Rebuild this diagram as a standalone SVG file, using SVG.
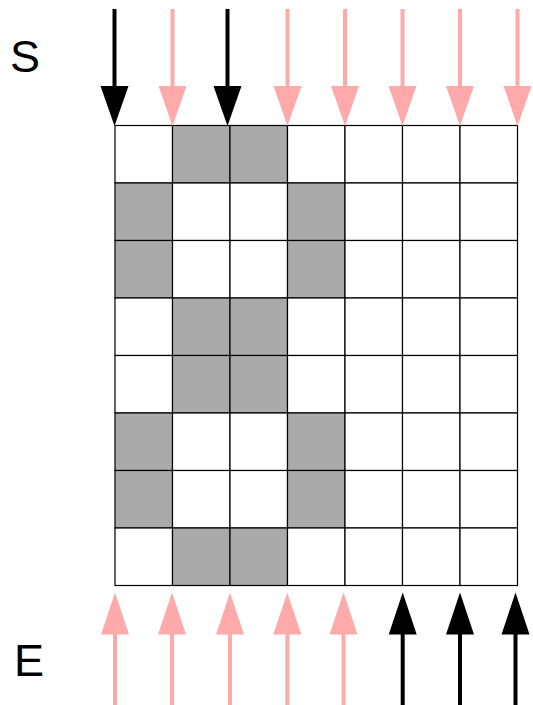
<svg xmlns="http://www.w3.org/2000/svg" width="533" height="705" viewBox="0 0 533 705">
<style>
.cell{stroke:#000;stroke-width:1.2}
.w{fill:#fff}
.g{fill:#aaaaaa}
.lbl{font-family:"Liberation Sans",Arial,sans-serif;font-size:45px;fill:#000}
.pk line{stroke:#ffaaaa;stroke-width:4}
.pk polygon{fill:#ffaaaa}
.bk line{stroke:#000;stroke-width:4}
.bk polygon{fill:#000}
</style>
<rect width="533" height="705" fill="#fff"/>
<g id="grid">
<rect class="cell w" x="115" y="125.5" width="57.5" height="57.5"/>
<rect class="cell g" x="172.5" y="125.5" width="57.5" height="57.5"/>
<rect class="cell g" x="230" y="125.5" width="57.5" height="57.5"/>
<rect class="cell w" x="287.5" y="125.5" width="57.5" height="57.5"/>
<rect class="cell w" x="345" y="125.5" width="57.5" height="57.5"/>
<rect class="cell w" x="402.5" y="125.5" width="57.5" height="57.5"/>
<rect class="cell w" x="460" y="125.5" width="57.5" height="57.5"/>

<rect class="cell g" x="115" y="183" width="57.5" height="57.5"/>
<rect class="cell w" x="172.5" y="183" width="57.5" height="57.5"/>
<rect class="cell w" x="230" y="183" width="57.5" height="57.5"/>
<rect class="cell g" x="287.5" y="183" width="57.5" height="57.5"/>
<rect class="cell w" x="345" y="183" width="57.5" height="57.5"/>
<rect class="cell w" x="402.5" y="183" width="57.5" height="57.5"/>
<rect class="cell w" x="460" y="183" width="57.5" height="57.5"/>

<rect class="cell g" x="115" y="240.5" width="57.5" height="57.5"/>
<rect class="cell w" x="172.5" y="240.5" width="57.5" height="57.5"/>
<rect class="cell w" x="230" y="240.5" width="57.5" height="57.5"/>
<rect class="cell g" x="287.5" y="240.5" width="57.5" height="57.5"/>
<rect class="cell w" x="345" y="240.5" width="57.5" height="57.5"/>
<rect class="cell w" x="402.5" y="240.5" width="57.5" height="57.5"/>
<rect class="cell w" x="460" y="240.5" width="57.5" height="57.5"/>

<rect class="cell w" x="115" y="298" width="57.5" height="57.5"/>
<rect class="cell g" x="172.5" y="298" width="57.5" height="57.5"/>
<rect class="cell g" x="230" y="298" width="57.5" height="57.5"/>
<rect class="cell w" x="287.5" y="298" width="57.5" height="57.5"/>
<rect class="cell w" x="345" y="298" width="57.5" height="57.5"/>
<rect class="cell w" x="402.5" y="298" width="57.5" height="57.5"/>
<rect class="cell w" x="460" y="298" width="57.5" height="57.5"/>

<rect class="cell w" x="115" y="355.5" width="57.5" height="57.5"/>
<rect class="cell g" x="172.5" y="355.5" width="57.5" height="57.5"/>
<rect class="cell g" x="230" y="355.5" width="57.5" height="57.5"/>
<rect class="cell w" x="287.5" y="355.5" width="57.5" height="57.5"/>
<rect class="cell w" x="345" y="355.5" width="57.5" height="57.5"/>
<rect class="cell w" x="402.5" y="355.5" width="57.5" height="57.5"/>
<rect class="cell w" x="460" y="355.5" width="57.5" height="57.5"/>

<rect class="cell g" x="115" y="413" width="57.5" height="57.5"/>
<rect class="cell w" x="172.5" y="413" width="57.5" height="57.5"/>
<rect class="cell w" x="230" y="413" width="57.5" height="57.5"/>
<rect class="cell g" x="287.5" y="413" width="57.5" height="57.5"/>
<rect class="cell w" x="345" y="413" width="57.5" height="57.5"/>
<rect class="cell w" x="402.5" y="413" width="57.5" height="57.5"/>
<rect class="cell w" x="460" y="413" width="57.5" height="57.5"/>

<rect class="cell g" x="115" y="470.5" width="57.5" height="57.5"/>
<rect class="cell w" x="172.5" y="470.5" width="57.5" height="57.5"/>
<rect class="cell w" x="230" y="470.5" width="57.5" height="57.5"/>
<rect class="cell g" x="287.5" y="470.5" width="57.5" height="57.5"/>
<rect class="cell w" x="345" y="470.5" width="57.5" height="57.5"/>
<rect class="cell w" x="402.5" y="470.5" width="57.5" height="57.5"/>
<rect class="cell w" x="460" y="470.5" width="57.5" height="57.5"/>

<rect class="cell w" x="115" y="528" width="57.5" height="57.5"/>
<rect class="cell g" x="172.5" y="528" width="57.5" height="57.5"/>
<rect class="cell g" x="230" y="528" width="57.5" height="57.5"/>
<rect class="cell w" x="287.5" y="528" width="57.5" height="57.5"/>
<rect class="cell w" x="345" y="528" width="57.5" height="57.5"/>
<rect class="cell w" x="402.5" y="528" width="57.5" height="57.5"/>
<rect class="cell w" x="460" y="528" width="57.5" height="57.5"/>
</g>
<g id="labels">
<text class="lbl" x="10" y="72">S</text>
<text class="lbl" x="14" y="676">E</text>
</g>
<g id="connectors">
<g id="top-arrows">
<g class="bk"><line x1="114.5" y1="9" x2="114.5" y2="88"/><polygon points="100.5,86 128.5,86 114.5,126"/></g>
<g class="pk"><line x1="172.5" y1="9" x2="172.5" y2="88"/><polygon points="158.5,86 186.5,86 172.5,126"/></g>
<g class="bk"><line x1="227.5" y1="9" x2="227.5" y2="88"/><polygon points="213.5,86 241.5,86 227.5,126"/></g>
<g class="pk"><line x1="287.5" y1="9" x2="287.5" y2="88"/><polygon points="273.5,86 301.5,86 287.5,126"/></g>
<g class="pk"><line x1="345" y1="9" x2="345" y2="88"/><polygon points="331,86 359,86 345,126"/></g>
<g class="pk"><line x1="402.5" y1="9" x2="402.5" y2="88"/><polygon points="388.5,86 416.5,86 402.5,126"/></g>
<g class="pk"><line x1="460" y1="9" x2="460" y2="88"/><polygon points="446,86 474,86 460,126"/></g>
<g class="pk"><line x1="517.5" y1="9" x2="517.5" y2="88"/><polygon points="503.5,86 531.5,86 517.5,126"/></g>
</g>
<g id="bottom-arrows">
<g class="pk"><line x1="115" y1="705" x2="115" y2="632"/><polygon points="101,634.5 129,634.5 115,592.5"/></g>
<g class="pk"><line x1="172" y1="705" x2="172" y2="632"/><polygon points="158,634.5 186,634.5 172,592.5"/></g>
<g class="pk"><line x1="230" y1="705" x2="230" y2="632"/><polygon points="216,634.5 244,634.5 230,592.5"/></g>
<g class="pk"><line x1="287.3" y1="705" x2="287.3" y2="632"/><polygon points="273.3,634.5 301.3,634.5 287.3,592.5"/></g>
<g class="pk"><line x1="343.5" y1="705" x2="343.5" y2="632"/><polygon points="329.5,634.5 357.5,634.5 343.5,592.5"/></g>
<g class="bk"><line x1="402.7" y1="705" x2="402.7" y2="632"/><polygon points="388.7,634.5 416.7,634.5 402.7,592.5"/></g>
<g class="bk"><line x1="460" y1="705" x2="460" y2="632"/><polygon points="446,634.5 474,634.5 460,592.5"/></g>
<g class="bk"><line x1="515.5" y1="705" x2="515.5" y2="632"/><polygon points="501.5,634.5 529.5,634.5 515.5,592.5"/></g>
</g>
</g>
</svg>
